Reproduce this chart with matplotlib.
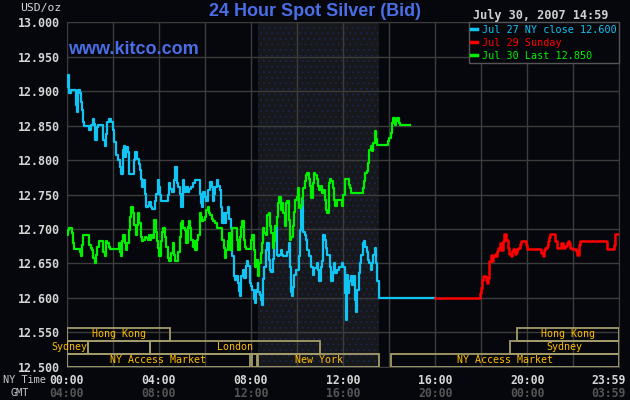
import matplotlib
matplotlib.use("Agg")
import matplotlib.pyplot as plt
from matplotlib.patches import Rectangle
from matplotlib.transforms import offset_copy

# Jul 27 (NY close 12.600) - cyan
jul27_hours = [0.00, 0.06, 0.10, 0.17, 0.39, 0.43, 0.49, 0.57, 0.61, 0.65,
               0.70, 0.75, 0.99, 1.07, 1.14, 1.19, 1.25, 1.30, 1.36, 1.59,
               1.65, 1.71, 1.77, 1.84, 1.91, 1.99, 2.06, 2.13, 2.23, 2.32,
               2.38, 2.43, 2.48, 2.54, 2.59, 2.65, 2.71, 2.93, 2.97, 3.04,
               3.12, 3.17, 3.22, 3.28, 3.33, 3.39, 3.45, 3.51, 3.58, 3.65,
               3.72, 3.83, 3.90, 3.96, 4.01, 4.06, 4.09, 4.38, 4.43, 4.49,
               4.57, 4.64, 4.71, 4.78, 4.84, 4.91, 4.97, 5.04, 5.10, 5.17,
               5.25, 5.30, 5.39, 5.48, 5.57, 5.77, 5.83, 5.88, 5.94, 6.00,
               6.07, 6.13, 6.23, 6.29, 6.35, 6.41, 6.46, 6.52, 6.58, 6.64,
               6.70, 6.75, 6.81, 6.87, 6.94, 7.01, 7.07, 7.13, 7.19, 7.25,
               7.30, 7.36, 7.42, 7.48, 7.54, 7.59, 7.65, 7.71, 7.77, 7.83,
               7.88, 7.94, 8.00, 8.06, 8.12, 8.17, 8.23, 8.29, 8.32, 8.38,
               8.43, 8.48, 8.54, 8.59, 8.65, 8.71, 8.77, 8.83, 8.88, 8.94,
               9.00, 9.06, 9.12, 9.17, 9.23, 9.29, 9.35, 9.41, 9.58, 9.64,
               9.70, 9.74, 9.78, 9.83, 9.88, 9.96, 10.07, 10.13, 10.17, 10.22,
               10.28, 10.33, 10.39, 10.45, 10.51, 10.62, 10.68, 10.74, 10.86, 10.91,
               10.97, 11.03, 11.09, 11.14, 11.20, 11.26, 11.32, 11.43, 11.49, 11.55,
               11.61, 11.67, 11.72, 11.84, 11.96, 12.01, 12.07, 12.13, 12.17, 12.22,
               12.28, 12.33, 12.39, 12.45, 12.51, 12.57, 12.62, 12.68, 12.74, 12.80,
               12.86, 12.91, 12.97, 13.03, 13.09, 13.14, 13.20, 13.26, 13.32, 13.38,
               13.43, 13.49, 13.55, 16.00]
jul27_price = [12.906, 12.923, 12.897, 12.901, 12.880, 12.870, 12.901, 12.897, 12.884, 12.872,
               12.855, 12.850, 12.843, 12.851, 12.860, 12.853, 12.829, 12.848, 12.851, 12.829,
               12.821, 12.838, 12.855, 12.860, 12.855, 12.843, 12.826, 12.807, 12.800, 12.790,
               12.780, 12.814, 12.821, 12.804, 12.819, 12.812, 12.780, 12.800, 12.812, 12.802,
               12.795, 12.785, 12.773, 12.761, 12.771, 12.751, 12.732, 12.734, 12.739, 12.732,
               12.729, 12.741, 12.751, 12.771, 12.761, 12.749, 12.741, 12.749, 12.766, 12.758,
               12.754, 12.771, 12.790, 12.766, 12.761, 12.751, 12.732, 12.771, 12.754, 12.761,
               12.754, 12.758, 12.761, 12.766, 12.771, 12.751, 12.737, 12.732, 12.754, 12.746,
               12.741, 12.756, 12.768, 12.761, 12.741, 12.751, 12.761, 12.771, 12.763, 12.756,
               12.732, 12.708, 12.723, 12.708, 12.723, 12.732, 12.715, 12.701, 12.660, 12.631,
               12.626, 12.631, 12.622, 12.610, 12.602, 12.631, 12.641, 12.629, 12.646, 12.653,
               12.646, 12.622, 12.617, 12.612, 12.598, 12.593, 12.612, 12.622, 12.609, 12.604,
               12.597, 12.590, 12.628, 12.645, 12.670, 12.679, 12.655, 12.640, 12.638, 12.657,
               12.694, 12.704, 12.662, 12.660, 12.662, 12.670, 12.662, 12.660, 12.667, 12.679,
               12.645, 12.609, 12.602, 12.616, 12.633, 12.640, 12.660, 12.699, 12.728, 12.742,
               12.696, 12.691, 12.684, 12.670, 12.660, 12.645, 12.633, 12.643, 12.650, 12.640,
               12.624, 12.645, 12.653, 12.691, 12.684, 12.672, 12.662, 12.645, 12.624, 12.638,
               12.650, 12.636, 12.640, 12.645, 12.650, 12.645, 12.607, 12.568, 12.633, 12.607,
               12.624, 12.631, 12.619, 12.631, 12.597, 12.580, 12.611, 12.636, 12.650, 12.662,
               12.679, 12.682, 12.674, 12.667, 12.655, 12.650, 12.640, 12.650, 12.662, 12.672,
               12.650, 12.624, 12.600, 12.600]

# Jul 29 (Sunday) - red
jul29_hours = [16.00, 17.94, 17.99, 18.03, 18.09, 18.20, 18.26, 18.29, 18.32, 18.36,
               18.41, 18.46, 18.52, 18.58, 18.64, 18.70, 18.75, 18.81, 18.87, 18.93,
               18.99, 19.10, 19.16, 19.22, 19.28, 19.33, 19.39, 19.45, 19.51, 19.57,
               19.62, 19.68, 19.74, 19.94, 20.00, 20.61, 20.67, 20.72, 20.78, 20.84,
               20.90, 20.96, 21.01, 21.22, 21.28, 21.48, 21.54, 21.65, 21.71, 21.77,
               21.83, 21.88, 21.94, 22.12, 22.17, 22.23, 22.29, 23.48, 23.77, 23.83,
               23.98]
jul29_price = [12.600, 12.607, 12.614, 12.626, 12.632, 12.626, 12.621, 12.629, 12.637, 12.653,
               12.662, 12.654, 12.660, 12.663, 12.660, 12.668, 12.673, 12.680, 12.670, 12.683,
               12.692, 12.684, 12.672, 12.664, 12.660, 12.668, 12.671, 12.663, 12.667, 12.671,
               12.673, 12.678, 12.682, 12.676, 12.671, 12.665, 12.660, 12.670, 12.672, 12.675,
               12.683, 12.688, 12.692, 12.683, 12.672, 12.680, 12.672, 12.675, 12.680, 12.683,
               12.680, 12.672, 12.671, 12.668, 12.662, 12.677, 12.682, 12.671, 12.677, 12.692,
               12.692]

# Jul 30 (Last 12.850) - green
jul30_hours = [0.00, 0.06, 0.12, 0.19, 0.23, 0.28, 0.32, 0.58, 0.62, 0.67,
               0.72, 0.99, 1.04, 1.10, 1.16, 1.22, 1.28, 1.33, 1.39, 1.59,
               1.65, 1.71, 1.77, 1.83, 1.88, 2.25, 2.30, 2.36, 2.41, 2.46,
               2.52, 2.58, 2.64, 2.70, 2.75, 2.81, 2.87, 2.93, 2.99, 3.04,
               3.10, 3.16, 3.22, 3.28, 3.33, 3.39, 3.45, 3.51, 3.57, 3.62,
               3.68, 3.74, 3.80, 3.86, 3.91, 3.97, 4.03, 4.09, 4.14, 4.20,
               4.26, 4.32, 4.38, 4.43, 4.55, 4.61, 4.67, 4.72, 4.84, 4.90,
               4.96, 5.01, 5.07, 5.13, 5.19, 5.25, 5.30, 5.36, 5.42, 5.48,
               5.54, 5.59, 5.65, 5.71, 5.77, 5.83, 5.88, 5.94, 6.00, 6.06,
               6.12, 6.17, 6.23, 6.29, 6.35, 6.46, 6.52, 6.75, 6.81, 6.87,
               6.93, 6.99, 7.04, 7.10, 7.16, 7.39, 7.45, 7.51, 7.57, 7.62,
               7.68, 7.74, 7.80, 8.00, 8.06, 8.12, 8.17, 8.23, 8.30, 8.36,
               8.42, 8.48, 8.54, 8.59, 8.65, 8.71, 8.77, 8.83, 8.88, 8.94,
               9.00, 9.06, 9.12, 9.17, 9.23, 9.29, 9.35, 9.41, 9.46, 9.52,
               9.58, 9.64, 9.70, 9.75, 9.81, 9.87, 9.93, 9.99, 10.04, 10.10,
               10.16, 10.22, 10.28, 10.33, 10.39, 10.45, 10.51, 10.57, 10.62, 10.68,
               10.74, 10.80, 10.86, 10.91, 10.97, 11.03, 11.09, 11.14, 11.20, 11.26,
               11.32, 11.38, 11.43, 11.49, 11.55, 11.61, 11.67, 11.72, 11.96, 12.01,
               12.07, 12.25, 12.30, 12.36, 12.86, 12.91, 12.97, 13.03, 13.09, 13.14,
               13.20, 13.26, 13.32, 13.38, 13.43, 13.49, 13.96, 14.01, 14.07, 14.13,
               14.19, 14.25, 14.30, 14.36, 14.42, 14.48, 14.91]
jul30_price = [12.691, 12.699, 12.702, 12.701, 12.694, 12.679, 12.671, 12.667, 12.660, 12.677,
               12.691, 12.677, 12.672, 12.670, 12.658, 12.651, 12.662, 12.674, 12.682, 12.667,
               12.660, 12.682, 12.679, 12.674, 12.671, 12.679, 12.667, 12.660, 12.682, 12.691,
               12.679, 12.670, 12.679, 12.699, 12.718, 12.732, 12.723, 12.706, 12.691, 12.706,
               12.723, 12.708, 12.689, 12.682, 12.684, 12.689, 12.687, 12.684, 12.691, 12.684,
               12.691, 12.687, 12.713, 12.696, 12.682, 12.672, 12.660, 12.682, 12.696, 12.701,
               12.689, 12.674, 12.658, 12.653, 12.665, 12.679, 12.662, 12.653, 12.667, 12.689,
               12.708, 12.711, 12.701, 12.699, 12.679, 12.703, 12.711, 12.701, 12.684, 12.674,
               12.682, 12.670, 12.684, 12.691, 12.723, 12.718, 12.711, 12.713, 12.718, 12.727,
               12.732, 12.723, 12.720, 12.715, 12.711, 12.708, 12.701, 12.684, 12.672, 12.658,
               12.670, 12.682, 12.694, 12.670, 12.701, 12.684, 12.670, 12.689, 12.703, 12.711,
               12.684, 12.674, 12.671, 12.684, 12.691, 12.670, 12.645, 12.655, 12.631, 12.650,
               12.665, 12.679, 12.701, 12.694, 12.691, 12.720, 12.723, 12.704, 12.694, 12.672,
               12.682, 12.704, 12.718, 12.737, 12.747, 12.728, 12.737, 12.723, 12.704, 12.737,
               12.740, 12.713, 12.684, 12.689, 12.704, 12.725, 12.742, 12.747, 12.759, 12.730,
               12.735, 12.745, 12.759, 12.769, 12.779, 12.781, 12.772, 12.762, 12.745, 12.767,
               12.781, 12.779, 12.772, 12.762, 12.757, 12.762, 12.752, 12.757, 12.742, 12.728,
               12.723, 12.767, 12.772, 12.769, 12.759, 12.742, 12.733, 12.742, 12.733, 12.750,
               12.772, 12.764, 12.759, 12.752, 12.759, 12.769, 12.781, 12.784, 12.796, 12.815,
               12.820, 12.813, 12.825, 12.842, 12.830, 12.822, 12.827, 12.832, 12.839, 12.854,
               12.861, 12.851, 12.856, 12.861, 12.854, 12.851, 12.851]

series_labels = ["Jul 27 NY close 12.600", "Jul 29 Sunday", "Jul 30 Last 12.850"]
series_colors = ["#10c4f4", "#ff0000", "#00f000"]

# market sessions (NY time hours), row 0 = bottom
session_names = ["Hong Kong", "Hong Kong", "Sydney", "", "London", "Sydney",
                 "NY Access Market", "", "New York", "NY Access Market"]
session_start = [0.0, 19.55, 0.0, 0.93, 3.62, 19.25, 0.0, 8.03, 8.33, 14.07]
session_end = [4.5, 23.98, 0.93, 3.62, 10.98, 23.98, 7.94, 8.27, 13.56, 23.98]
session_row = [2, 2, 1, 1, 1, 1, 0, 0, 0, 0]

comex_start, comex_end = 8.33, 13.56

grid_hours = list(range(0, 25, 2))
tick_hours = [0, 4, 8, 12, 16, 20, 24]
ny_labels = ["00:00", "04:00", "08:00", "12:00", "16:00", "20:00", "23:59"]
gmt_labels = ["04:00", "08:00", "12:00", "16:00", "20:00", "00:00", "03:59"]
y_ticks = [12.50, 12.55, 12.60, 12.65, 12.70, 12.75, 12.80, 12.85, 12.90, 12.95, 13.00]

bg = "#06070c"
mono = "DejaVu Sans Mono"

fig = plt.figure(figsize=(6.3, 4.0), dpi=100, facecolor=bg)
ax = fig.add_axes([66.7 / 630, 33.3 / 400, 552.6 / 630, 344.4 / 400], facecolor=bg)

ax.set_xlim(0, 24)
ax.set_ylim(12.5, 13.0)

# NY Comex shaded block
plt.rcParams["hatch.linewidth"] = 0.5
ax.axvspan(comex_start, comex_end, facecolor="#17181b", edgecolor="#1b2858",
           hatch="...", linewidth=0, zorder=0)

ax.set_xticks(grid_hours)
ax.set_yticks(y_ticks)
ax.grid(True, color="#3c3c3c", linewidth=1)
ax.set_axisbelow(True)
ax.tick_params(length=0, labelbottom=False)
ax.set_yticklabels(["%.3f" % v for v in y_ticks], family=mono, fontsize=8.4,
                   fontweight="bold", color="#d6d6d6")
ax.tick_params(axis="y", pad=5)
for s in ax.spines.values():
    s.set_color("#3c3c3c")

ax.plot(jul27_hours, jul27_price, drawstyle="steps-post", color=series_colors[0],
        lw=1.6, label=series_labels[0], zorder=3)
ax.plot(jul29_hours, jul29_price, drawstyle="steps-post", color=series_colors[1],
        lw=1.8, label=series_labels[1], zorder=3)
ax.plot(jul30_hours, jul30_price, drawstyle="steps-post", color=series_colors[2],
        lw=1.6, label=series_labels[2], zorder=3)

# session boxes along the bottom
row_h = 0.0377
xt = ax.get_xaxis_transform()
for name, a, b, r in zip(session_names, session_start, session_end, session_row):
    ax.add_patch(Rectangle((a, r * row_h), b - a, row_h, transform=xt, fill=False,
                           edgecolor="#a49c6a", lw=1.3, zorder=4))
    if not name:
        continue
    if a == 0.0 and b < 2:
        # Sydney label spills left of the axes like the original
        tr = offset_copy(xt, fig=fig, x=-1, y=0, units="dots")
        ax.text(b, (r + 0.5) * row_h, name, transform=tr, ha="right", va="center",
                family=mono, fontsize=7.2, color="#ffbc00", clip_on=False, zorder=5)
    else:
        ax.text((a + b) / 2, (r + 0.5) * row_h, name, transform=xt, ha="center",
                va="center", family=mono, fontsize=7.2, color="#ffbc00", zorder=5)

# time labels under the axes
ny_tr = offset_copy(xt, fig=fig, x=0, y=-13.5, units="dots")
gmt_tr = offset_copy(xt, fig=fig, x=0, y=-26.5, units="dots")
for i, h in enumerate(tick_hours):
    ha = "center"
    tr1, tr2 = ny_tr, gmt_tr
    if i == len(tick_hours) - 1:
        ha = "right"
        tr1 = offset_copy(ny_tr, fig=fig, x=6, y=0, units="dots")
        tr2 = offset_copy(gmt_tr, fig=fig, x=6, y=0, units="dots")
    ax.text(h, 0, ny_labels[i], transform=tr1, ha=ha, va="center", family=mono,
            fontsize=8.3, fontweight="bold", color="#d6d6d6", clip_on=False)
    ax.text(h, 0, gmt_labels[i], transform=tr2, ha=ha, va="center", family=mono,
            fontsize=8.3, fontweight="bold", color="#555555", clip_on=False)

fig.text(24 / 630, 1 - 380 / 400, "NY Time", ha="center", va="center", family=mono,
         fontsize=7.4, color="#c8c8c8")
fig.text(20 / 630, 1 - 393 / 400, "GMT", ha="center", va="center", family=mono,
         fontsize=7.4, color="#c8c8c8")

# headers
fig.text(41 / 630, 1 - 8 / 400, "USD/oz", ha="center", va="center", family=mono,
         fontsize=8.2, color="#d6d6d6")
fig.text(315 / 630, 1 - 12 / 400, "24 Hour Spot Silver (Bid)", ha="center", va="center",
         family="Liberation Sans", fontweight="bold", fontsize=13, color="#4a6ee6")
fig.text(541 / 630, 1 - 15 / 400, "July 30, 2007 14:59", ha="center", va="center",
         family=mono, fontweight="bold", fontsize=8.6, color="#d0d0d0")
fig.text(68 / 630, 1 - 49 / 400, "www.kitco.com", ha="left", va="center",
         family="Liberation Sans", fontweight="bold", fontsize=13, color="#4a6ee6")

leg = ax.legend(loc="upper right", bbox_to_anchor=(1, 1), borderaxespad=0,
                prop={"family": mono, "size": 7.3}, labelcolor="linecolor",
                handlelength=0.55, handletextpad=0.5, borderpad=0.25,
                labelspacing=0.3, fancybox=False, framealpha=1)
leg.get_frame().set_facecolor(bg)
leg.get_frame().set_edgecolor("#555555")
for line in leg.get_lines():
    line.set_linewidth(2.5)
    line.set_drawstyle("default")

fig.savefig("out.png", dpi=100, facecolor=bg)
